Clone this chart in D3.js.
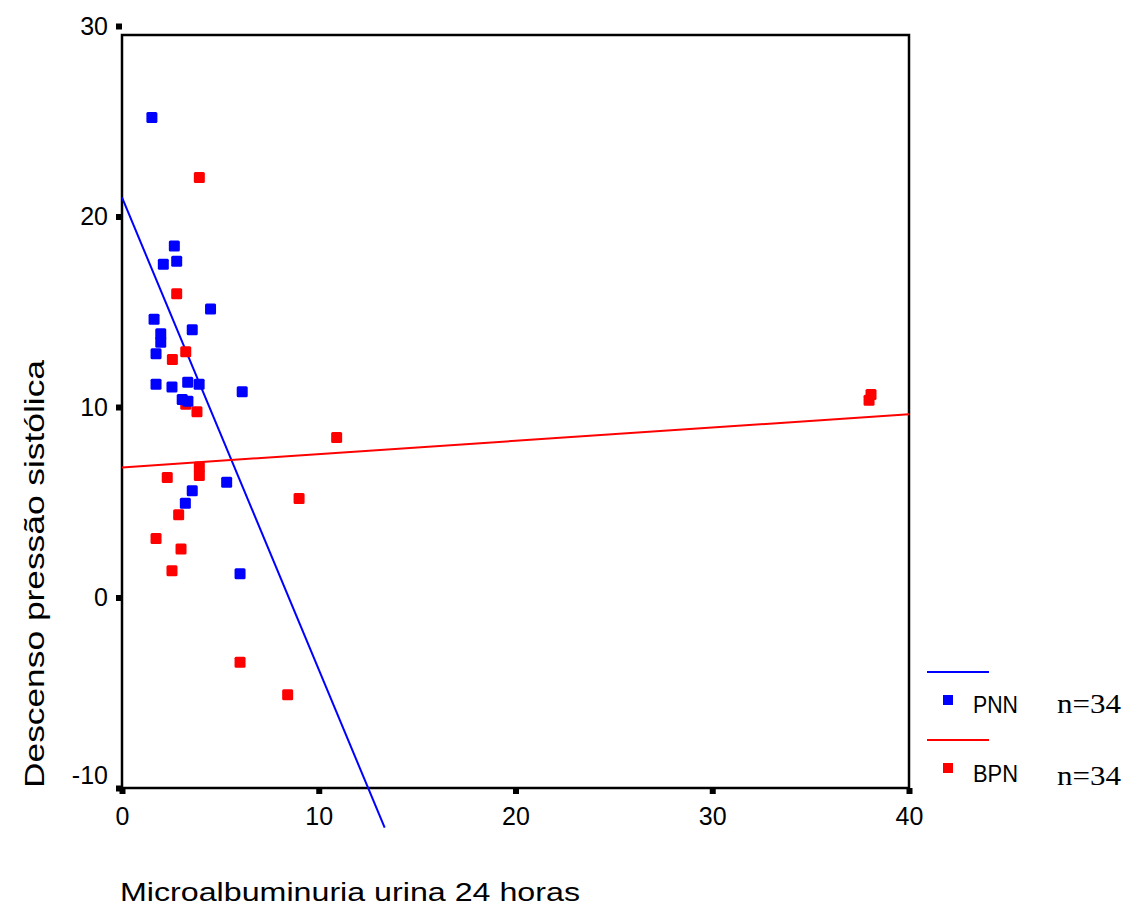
<!DOCTYPE html>
<html>
<head>
<meta charset="utf-8">
<script src="https://cdn.jsdelivr.net/npm/d3@7"></script>
<style>
  body { margin: 0; background: #fff; }
  text { font-family: "Liberation Sans", Arial, sans-serif; fill: #000; }
  .serif { font-family: "Liberation Serif", "Times New Roman", serif; }
</style>
</head>
<body>
<div id="chart"></div>
<script>
'use strict';

// PNN group (blue): [microalbuminuria, descenso]
const pnnX = [1.52, 2.66, 2.10, 2.78, 4.50, 1.63, 1.97, 1.97, 1.73, 3.57, 1.73,
              2.54, 3.34, 3.92, 6.11, 3.06, 3.35, 5.32, 3.57, 3.22, 6.00];
const pnnY = [25.2, 18.45, 17.5, 17.65, 15.15, 14.6, 13.85, 13.4, 12.8, 14.05, 11.2,
              11.05, 11.3, 11.2, 10.8, 10.4, 10.3, 6.05, 5.6, 4.95, 1.25];

// BPN group (red)
const bpnX = [3.93, 2.78, 3.24, 2.56, 3.24, 3.81, 3.93, 3.93, 2.30, 9.00, 10.91,
              38.07, 37.97, 2.88, 1.73, 3.00, 2.54, 6.00, 8.42];
const bpnY = [22.05, 15.95, 12.9, 12.5, 10.15, 9.75, 6.85, 6.4, 6.3, 5.2, 8.4,
              10.65, 10.35, 4.35, 3.1, 2.55, 1.4, -3.4, -5.1];

// fitted lines: [intercept, slope, x end]
const fitPNN = [21.0, -2.478, 13.35];
const fitBPN = [6.83, 0.0697, 40];

const xTicks = [0, 10, 20, 30, 40];
const yTicks = [-10, 0, 10, 20, 30];
const groups = ['PNN', 'BPN'];
const counts = ['n=34', 'n=34'];
const colors = ['#0000ff', '#ff0000'];

const width = 1127, height = 918;

const svg = d3.select('#chart').append('svg')
    .attr('width', width)
    .attr('height', height);

const x = d3.scaleLinear([0, 40], [122, 909]);
const y = d3.scaleLinear([-10, 30], [788, 26]);

// frame (top sits a little under the 30 tick, as in the original)
svg.append('rect')
    .attr('x', x(0)).attr('y', 35)
    .attr('width', x(40) - x(0)).attr('height', y(-10) - 35)
    .attr('fill', 'none').attr('stroke', '#000').attr('stroke-width', 2.5);

// axes - ticks drawn as small squares, plain hyphen for negatives
const fmt = d => String(d);
const yAxis = svg.append('g')
    .attr('transform', `translate(${x(0)},0)`)
    .call(d3.axisLeft(y).tickValues(yTicks).tickFormat(fmt).tickSize(6).tickPadding(8));
const xAxis = svg.append('g')
    .attr('transform', `translate(0,${y(-10)})`)
    .call(d3.axisBottom(x).tickValues(xTicks).tickFormat(fmt).tickSize(6).tickPadding(13));

[xAxis, yAxis].forEach(g => {
    g.select('.domain').remove();
    g.selectAll('.tick line').attr('stroke', '#000').attr('stroke-width', 6);
    g.selectAll('.tick text')
        .attr('font-family', '"Liberation Sans", Arial, sans-serif')
        .attr('font-size', 25).attr('fill', '#000');
});
// -10 label is lifted off the x axis
yAxis.selectAll('.tick text').filter(d => d === -10).attr('y', -13);

// axis titles
svg.append('text')
    .attr('x', 120).attr('y', 901)
    .attr('font-size', 25)
    .attr('textLength', 460).attr('lengthAdjust', 'spacingAndGlyphs')
    .text('Microalbuminuria urina 24 horas');

svg.append('text')
    .attr('transform', 'translate(44,788) rotate(-90)')
    .attr('font-size', 28)
    .attr('textLength', 428).attr('lengthAdjust', 'spacingAndGlyphs')
    .text('Descenso pressão sistólica');

// fit lines
const line = d3.line().x(d => x(d[0])).y(d => y(d[1]));
[fitPNN, fitBPN].forEach((f, i) => {
    svg.append('path')
        .attr('d', line([[0, f[0]], [f[2], f[0] + f[1] * f[2]]]))
        .attr('fill', 'none').attr('stroke', colors[i]).attr('stroke-width', 2);
});

// points
const sz = 11;
const drawPoints = (xs, ys, color) => {
    svg.append('g').selectAll('rect')
        .data(d3.zip(xs, ys))
        .join('rect')
        .attr('x', d => x(d[0]) - sz / 2)
        .attr('y', d => y(d[1]) - sz / 2)
        .attr('width', sz).attr('height', sz)
        .attr('rx', 1.5)
        .attr('fill', color);
};
drawPoints(bpnX, bpnY, colors[1]);
drawPoints(pnnX, pnnY, colors[0]);

// legend
const legend = svg.append('g').attr('transform', 'translate(927,0)');
groups.forEach((g, i) => {
    const top = 672 + i * 68;
    legend.append('line')
        .attr('x1', 0).attr('x2', 62)
        .attr('y1', top).attr('y2', top)
        .attr('stroke', colors[i]).attr('stroke-width', 2);
    legend.append('rect')
        .attr('x', 16).attr('y', top + 23)
        .attr('width', 10).attr('height', 10)
        .attr('fill', colors[i]);
    legend.append('text')
        .attr('x', 46).attr('y', top + 41 + i * 1)
        .attr('font-size', 24)
        .attr('textLength', 45).attr('lengthAdjust', 'spacingAndGlyphs')
        .text(g);
    legend.append('text')
        .attr('class', 'serif')
        .attr('x', 130).attr('y', top + 41 + i * 4)
        .attr('font-size', 27)
        .attr('textLength', 64).attr('lengthAdjust', 'spacingAndGlyphs')
        .text(counts[i]);
});
</script>
</body>
</html>
